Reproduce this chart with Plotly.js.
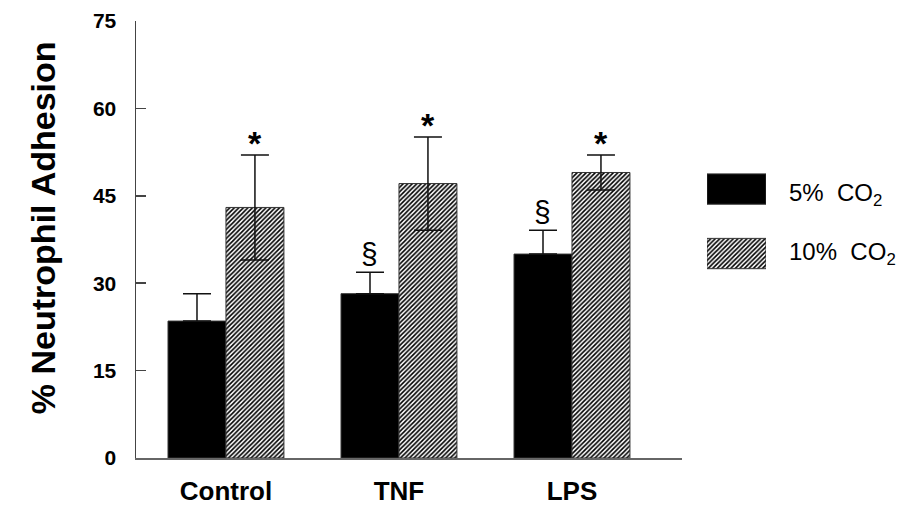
<!DOCTYPE html>
<html>
<head>
<meta charset="utf-8">
<script src="https://cdn.plot.ly/plotly-3.0.1.min.js"></script>
<style>html,body{margin:0;padding:0;background:#fff;}#chart{width:907px;height:506px;}</style>
</head>
<body>
<div id="chart"></div>
<script>
// ---- data ----
var categories = ["Control", "TNF", "LPS"];
var co2_5 = [23.5, 28.2, 35.0];
var co2_5_err = [4.7, 3.7, 4.1];
var co2_10 = [43.0, 47.1, 49.0];
var co2_10_err = [9.0, 8.0, 3.0];
var marks_5 = ["", "§", "§"];
var marks_10 = ["*", "*", "*"];
var seriesNames = ["5%  CO<sub>2</sub>", "10%  CO<sub>2</sub>"];
var yTicks = [0, 15, 30, 45, 60, 75];
var yTitle = "% Neutrophil Adhesion";
var legendKeyPos = [1, 0];
var legendKeyLen = [1];

var FONT = "Liberation Sans, Arial, sans-serif";
var hatch = {shape: "/", size: 3.2, solidity: 0.5, fgcolor: "#000", bgcolor: "#fff"};

var traces = [
  {
    type: "bar", x: categories, y: co2_5, name: seriesNames[0],
    marker: {color: "#000", line: {color: "#333", width: 1}},
    error_y: {type: "data", array: co2_5_err, arrayminus: co2_5.map(function(){return 0;}),
              symmetric: false, color: "#111", thickness: 1.5, width: 14},
    showlegend: false
  },
  {
    type: "bar", x: categories, y: co2_10, name: seriesNames[1],
    marker: {color: "#fff", pattern: hatch, line: {color: "#333", width: 1}},
    error_y: {type: "data", array: co2_10_err, color: "#111", thickness: 1.5, width: 14},
    showlegend: false
  },
  // legend keys
  {
    type: "bar", orientation: "h", x: legendKeyLen, y: [legendKeyPos[0]], width: 0.47,
    xaxis: "x2", yaxis: "y2", hoverinfo: "skip", showlegend: false,
    marker: {color: "#000", line: {color: "#333", width: 1}}
  },
  {
    type: "bar", orientation: "h", x: legendKeyLen, y: [legendKeyPos[1]], width: 0.47,
    xaxis: "x2", yaxis: "y2", hoverinfo: "skip", showlegend: false,
    marker: {color: "#fff", pattern: hatch, line: {color: "#333", width: 1}}
  }
];

var annotations = [];
var pxHalf = 29;
categories.forEach(function(c, i){
  if (marks_5[i]) annotations.push({x: c, y: co2_5[i] + co2_5_err[i], xref: "x", yref: "y", xshift: -pxHalf,
    text: marks_5[i], showarrow: false, yanchor: "bottom", yshift: 0,
    font: {family: FONT, size: 30, color: "#000"}});
  if (marks_10[i]) annotations.push({x: c, y: co2_10[i] + co2_10_err[i], xref: "x", yref: "y", xshift: pxHalf,
    text: marks_10[i], showarrow: false, yanchor: "bottom", yshift: -9,
    font: {family: FONT, size: 34, color: "#000", weight: "bold"}});
});
var legY = [0.604, 0.469];
seriesNames.forEach(function(n, i){
  annotations.push({x: 0.8555, y: legY[i], xref: "paper", yref: "paper", xanchor: "left", yanchor: "middle",
    text: n, showarrow: false, font: {family: FONT, size: 24, color: "#000"}});
});
// y-axis title
annotations.push({x: (43 - 136) / 761, y: 0.526, xref: "paper", yref: "paper", text: yTitle, textangle: -90, showarrow: false,
  xanchor: "center", yanchor: "middle", font: {family: FONT, size: 34, weight: "bold", color: "#000"}});

var layout = {
  width: 907, height: 506,
  margin: {l: 136, r: 10, t: 21, b: 48},
  paper_bgcolor: "#fff", plot_bgcolor: "#fff",
  font: {family: FONT, color: "#000"},
  barmode: "group", bargap: 0.33, bargroupgap: 0,
  showlegend: false,
  xaxis: {
    domain: [0, 0.7175], range: [-0.52, 2.636], type: "category",
    showline: true, linecolor: "#666", linewidth: 2, ticks: "", showgrid: false, zeroline: false,
    tickfont: {family: FONT, size: 26, weight: "bold", color: "#000"}, ticklabelstandoff: 9
  },
  yaxis: {
    range: [0, 75], tickvals: yTicks, showline: true, linecolor: "#444", linewidth: 1.5,
    ticks: "inside", ticklen: 10, tickwidth: 1.5, tickcolor: "#444", showgrid: false, zeroline: false,
    tickfont: {family: FONT, size: 21, weight: "bold", color: "#000"}, ticklabelstandoff: 14
  },
  xaxis2: {domain: [0.7503, 0.8279], range: [0, 1], anchor: "y2", visible: false, fixedrange: true},
  yaxis2: {domain: [0.4233, 0.659], range: [-0.302, 1.295], anchor: "x2", visible: false, fixedrange: true},
  annotations: annotations
};

Plotly.newPlot("chart", traces, layout, {staticPlot: true});
</script>
</body>
</html>
